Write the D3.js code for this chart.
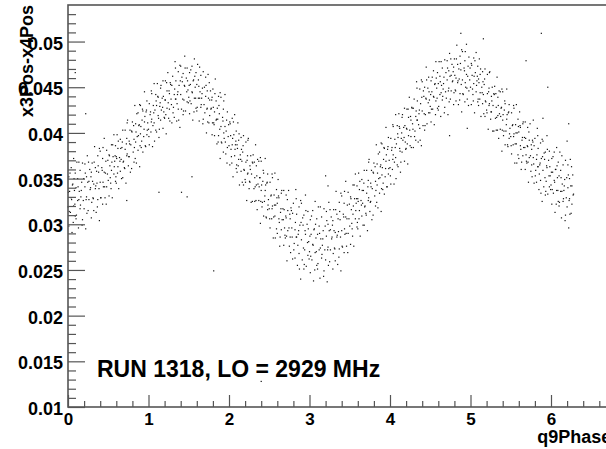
<!DOCTYPE html>
<html>
<head>
<meta charset="utf-8">
<script src="https://cdn.jsdelivr.net/npm/d3@7"></script>
<style>
  body { margin: 0; background: #fff; }
  svg { display: block; }
</style>
</head>
<body>
<svg id="chart" width="606" height="449"></svg>
<script>
// Run annotation and axis titles
const runLabel = "RUN 1318, LO = 2929 MHz";
const xTitle = "q9Phase";
const yTitle = "x3Pos-x4Pos";

// Axis ticks
const xMajor = [0, 1, 2, 3, 4, 5, 6];
const yMajor = [0.01, 0.015, 0.02, 0.025, 0.03, 0.035, 0.04, 0.045, 0.05];
const yLabels = ["0.01", "0.015", "0.02", "0.025", "0.03", "0.035", "0.04", "0.045", "0.05"];

// Scan events: [q9Phase, x3Pos-x4Pos]
const scan = [
[0.00,.0319],[0.01,.0352],[0.01,.0298],[0.02,.0336],[0.03,.0313],[0.04,.0362],[0.04,.0329],[0.05,.0291],[0.06,.0344],[0.07,.0320],[0.07,.0372],[0.08,.0337],[0.09,.0309],[0.09,.0356],
[0.10,.0340],[0.10,.0306],[0.11,.0368],[0.12,.0326],[0.12,.0350],[0.13,.0296],[0.14,.0336],[0.15,.0359],[0.15,.0317],[0.16,.0330],[0.17,.0346],[0.18,.0305],[0.18,.0367],[0.19,.0326],
[0.20,.0317],[0.21,.0341],[0.21,.0366],[0.22,.0295],[0.23,.0352],[0.23,.0330],[0.24,.0375],[0.25,.0315],[0.26,.0347],[0.26,.0327],[0.27,.0360],[0.28,.0340],[0.29,.0307],[0.29,.0357],
[0.30,.0367],[0.31,.0329],[0.32,.0344],[0.32,.0315],[0.33,.0385],[0.34,.0339],[0.34,.0362],[0.35,.0313],[0.36,.0345],[0.37,.0375],[0.37,.0327],[0.38,.0357],[0.39,.0383],[0.39,.0304],
[0.40,.0346],[0.40,.0380],[0.41,.0329],[0.42,.0362],[0.43,.0322],[0.43,.0372],[0.44,.0341],[0.45,.0357],[0.45,.0394],[0.46,.0329],[0.47,.0369],[0.48,.0341],[0.48,.0381],[0.49,.0355],
[0.50,.0348],[0.51,.0376],[0.51,.0331],[0.52,.0364],[0.53,.0345],[0.54,.0387],[0.54,.0359],[0.55,.0329],[0.56,.0374],[0.57,.0355],[0.57,.0398],[0.58,.0369],[0.59,.0347],[0.59,.0386],
[0.60,.0374],[0.60,.0345],[0.61,.0398],[0.62,.0363],[0.62,.0383],[0.63,.0339],[0.64,.0373],[0.65,.0393],[0.65,.0358],[0.66,.0371],[0.67,.0384],[0.68,.0351],[0.68,.0403],[0.69,.0369],
[0.70,.0362],[0.71,.0382],[0.71,.0403],[0.72,.0345],[0.73,.0394],[0.73,.0375],[0.74,.0414],[0.75,.0364],[0.76,.0391],[0.76,.0374],[0.77,.0403],[0.78,.0387],[0.79,.0361],[0.79,.0402],
[0.80,.0412],[0.81,.0379],[0.82,.0393],[0.82,.0368],[0.83,.0430],[0.84,.0390],[0.84,.0410],[0.85,.0367],[0.86,.0396],[0.87,.0422],[0.87,.0381],[0.88,.0408],[0.89,.0431],[0.89,.0363],
[0.90,.0399],[0.90,.0430],[0.91,.0384],[0.92,.0414],[0.93,.0379],[0.93,.0424],[0.94,.0396],[0.95,.0412],[0.95,.0445],[0.96,.0386],[0.97,.0423],[0.98,.0398],[0.98,.0435],[0.99,.0411],
[1.00,.0404],[1.01,.0432],[1.01,.0387],[1.02,.0420],[1.03,.0401],[1.04,.0443],[1.04,.0415],[1.05,.0385],[1.06,.0430],[1.07,.0411],[1.07,.0454],[1.08,.0425],[1.09,.0403],[1.09,.0442],
[1.10,.0430],[1.10,.0401],[1.11,.0454],[1.12,.0419],[1.12,.0439],[1.13,.0395],[1.14,.0429],[1.15,.0449],[1.15,.0414],[1.16,.0425],[1.17,.0438],[1.18,.0405],[1.18,.0457],[1.19,.0423],
[1.20,.0416],[1.21,.0436],[1.21,.0457],[1.22,.0399],[1.23,.0446],[1.23,.0427],[1.24,.0466],[1.25,.0416],[1.26,.0443],[1.26,.0426],[1.27,.0455],[1.28,.0437],[1.29,.0411],[1.29,.0452],
[1.30,.0462],[1.31,.0428],[1.32,.0442],[1.32,.0417],[1.33,.0478],[1.34,.0437],[1.34,.0457],[1.35,.0413],[1.36,.0442],[1.37,.0467],[1.37,.0426],[1.38,.0452],[1.39,.0474],[1.39,.0406],
[1.40,.0442],[1.40,.0473],[1.41,.0426],[1.42,.0456],[1.43,.0420],[1.43,.0465],[1.44,.0436],[1.45,.0451],[1.45,.0484],[1.46,.0424],[1.47,.0460],[1.48,.0434],[1.48,.0471],[1.49,.0447],
[1.50,.0439],[1.51,.0466],[1.51,.0421],[1.52,.0453],[1.53,.0432],[1.54,.0473],[1.54,.0445],[1.55,.0414],[1.56,.0458],[1.57,.0438],[1.57,.0481],[1.58,.0450],[1.59,.0427],[1.59,.0466],
[1.60,.0453],[1.60,.0424],[1.61,.0475],[1.62,.0438],[1.62,.0458],[1.63,.0413],[1.64,.0445],[1.65,.0463],[1.65,.0428],[1.66,.0438],[1.67,.0449],[1.68,.0415],[1.68,.0467],[1.69,.0431],
[1.70,.0422],[1.71,.0440],[1.71,.0461],[1.72,.0400],[1.73,.0446],[1.73,.0427],[1.74,.0464],[1.75,.0411],[1.76,.0436],[1.76,.0419],[1.77,.0446],[1.78,.0427],[1.79,.0398],[1.79,.0439],
[1.80,.0448],[1.81,.0411],[1.82,.0423],[1.82,.0397],[1.83,.0459],[1.84,.0414],[1.84,.0435],[1.85,.0388],[1.86,.0415],[1.87,.0440],[1.87,.0397],[1.88,.0421],[1.89,.0444],[1.89,.0372],
[1.90,.0407],[1.90,.0439],[1.91,.0389],[1.92,.0417],[1.93,.0379],[1.93,.0426],[1.94,.0394],[1.95,.0407],[1.95,.0442],[1.96,.0377],[1.97,.0414],[1.98,.0384],[1.98,.0423],[1.99,.0396],
[2.00,.0386],[2.01,.0412],[2.01,.0365],[2.02,.0397],[2.03,.0374],[2.04,.0416],[2.04,.0387],[2.05,.0352],[2.06,.0398],[2.07,.0375],[2.07,.0420],[2.08,.0387],[2.09,.0361],[2.09,.0402],
[2.10,.0387],[2.10,.0357],[2.11,.0411],[2.12,.0371],[2.12,.0392],[2.13,.0343],[2.14,.0376],[2.15,.0395],[2.15,.0358],[2.16,.0369],[2.17,.0379],[2.18,.0343],[2.18,.0397],[2.19,.0359],
[2.20,.0349],[2.21,.0368],[2.21,.0390],[2.22,.0326],[2.23,.0375],[2.23,.0355],[2.24,.0394],[2.25,.0339],[2.26,.0364],[2.26,.0346],[2.27,.0375],[2.28,.0355],[2.29,.0325],[2.29,.0368],
[2.30,.0376],[2.31,.0339],[2.32,.0351],[2.32,.0325],[2.33,.0387],[2.34,.0343],[2.34,.0364],[2.35,.0316],[2.36,.0344],[2.37,.0369],[2.37,.0326],[2.38,.0351],[2.39,.0373],[2.39,.0301],
[2.40,.0337],[2.40,.0369],[2.41,.0319],[2.42,.0347],[2.43,.0309],[2.43,.0356],[2.44,.0325],[2.45,.0337],[2.45,.0372],[2.46,.0308],[2.47,.0345],[2.48,.0316],[2.48,.0355],[2.49,.0327],
[2.50,.0317],[2.51,.0346],[2.51,.0296],[2.52,.0331],[2.53,.0306],[2.54,.0351],[2.54,.0320],[2.55,.0285],[2.56,.0332],[2.57,.0309],[2.57,.0356],[2.58,.0321],[2.59,.0295],[2.59,.0338],
[2.60,.0323],[2.60,.0290],[2.61,.0349],[2.62,.0306],[2.62,.0329],[2.63,.0276],[2.64,.0313],[2.65,.0334],[2.65,.0294],[2.66,.0305],[2.67,.0317],[2.68,.0277],[2.68,.0337],[2.69,.0296],
[2.70,.0285],[2.71,.0307],[2.71,.0332],[2.72,.0260],[2.73,.0315],[2.73,.0293],[2.74,.0337],[2.75,.0276],[2.76,.0306],[2.76,.0286],[2.77,.0318],[2.78,.0296],[2.79,.0262],[2.79,.0312],
[2.80,.0323],[2.81,.0279],[2.82,.0294],[2.82,.0263],[2.83,.0338],[2.84,.0286],[2.84,.0311],[2.85,.0255],[2.86,.0289],[2.87,.0319],[2.87,.0268],[2.88,.0299],[2.89,.0326],[2.89,.0240],
[2.90,.0283],[2.90,.0323],[2.91,.0261],[2.92,.0299],[2.93,.0251],[2.93,.0310],[2.94,.0272],[2.95,.0289],[2.95,.0332],[2.96,.0254],[2.97,.0300],[2.98,.0266],[2.98,.0314],[2.99,.0281],
[3.00,.0270],[3.01,.0305],[3.01,.0247],[3.02,.0289],[3.03,.0261],[3.04,.0315],[3.04,.0278],[3.05,.0238],[3.06,.0295],[3.07,.0269],[3.07,.0325],[3.08,.0285],[3.09,.0255],[3.09,.0306],
[3.10,.0289],[3.10,.0251],[3.11,.0319],[3.12,.0272],[3.12,.0298],[3.13,.0241],[3.14,.0284],[3.15,.0308],[3.15,.0263],[3.16,.0277],[3.17,.0293],[3.18,.0249],[3.18,.0317],[3.19,.0272],
[3.20,.0261],[3.21,.0287],[3.21,.0314],[3.22,.0237],[3.23,.0300],[3.23,.0275],[3.24,.0324],[3.25,.0259],[3.26,.0294],[3.26,.0272],[3.27,.0308],[3.28,.0286],[3.29,.0251],[3.29,.0304],
[3.30,.0316],[3.31,.0274],[3.32,.0291],[3.32,.0260],[3.33,.0336],[3.34,.0286],[3.34,.0311],[3.35,.0256],[3.36,.0292],[3.37,.0324],[3.37,.0273],[3.38,.0305],[3.39,.0334],[3.39,.0249],
[3.40,.0293],[3.40,.0331],[3.41,.0275],[3.42,.0311],[3.43,.0269],[3.43,.0323],[3.44,.0289],[3.45,.0308],[3.45,.0347],[3.46,.0276],[3.47,.0321],[3.48,.0290],[3.48,.0335],[3.49,.0306],
[3.50,.0298],[3.51,.0330],[3.51,.0278],[3.52,.0316],[3.53,.0295],[3.54,.0343],[3.54,.0311],[3.55,.0276],[3.56,.0328],[3.57,.0306],[3.57,.0355],[3.58,.0323],[3.59,.0297],[3.59,.0342],
[3.60,.0328],[3.60,.0295],[3.61,.0356],[3.62,.0315],[3.62,.0338],[3.63,.0287],[3.64,.0326],[3.65,.0349],[3.65,.0309],[3.66,.0323],[3.67,.0337],[3.68,.0299],[3.68,.0359],[3.69,.0320],
[3.70,.0312],[3.71,.0334],[3.71,.0359],[3.72,.0293],[3.73,.0348],[3.73,.0326],[3.74,.0371],[3.75,.0314],[3.76,.0345],[3.76,.0325],[3.77,.0359],[3.78,.0339],[3.79,.0310],[3.79,.0357],
[3.80,.0367],[3.81,.0331],[3.82,.0347],[3.82,.0320],[3.83,.0387],[3.84,.0343],[3.84,.0366],[3.85,.0318],[3.86,.0350],[3.87,.0379],[3.87,.0334],[3.88,.0363],[3.89,.0389],[3.89,.0314],
[3.90,.0354],[3.90,.0388],[3.91,.0338],[3.92,.0371],[3.93,.0333],[3.93,.0383],[3.94,.0352],[3.95,.0369],[3.95,.0406],[3.96,.0341],[3.97,.0382],[3.98,.0355],[3.98,.0395],[3.99,.0370],
[4.00,.0362],[4.01,.0394],[4.01,.0344],[4.02,.0381],[4.03,.0360],[4.04,.0407],[4.04,.0376],[4.05,.0344],[4.06,.0393],[4.07,.0373],[4.07,.0420],[4.08,.0388],[4.09,.0365],[4.09,.0408],
[4.10,.0395],[4.10,.0363],[4.11,.0421],[4.12,.0383],[4.12,.0405],[4.13,.0357],[4.14,.0394],[4.15,.0417],[4.15,.0379],[4.16,.0392],[4.17,.0406],[4.18,.0369],[4.18,.0427],[4.19,.0390],
[4.20,.0383],[4.21,.0404],[4.21,.0426],[4.22,.0366],[4.23,.0417],[4.23,.0397],[4.24,.0439],[4.25,.0386],[4.26,.0414],[4.26,.0396],[4.27,.0428],[4.28,.0410],[4.29,.0384],[4.29,.0427],
[4.30,.0437],[4.31,.0402],[4.32,.0418],[4.32,.0392],[4.33,.0456],[4.34,.0414],[4.34,.0435],[4.35,.0390],[4.36,.0421],[4.37,.0448],[4.37,.0405],[4.38,.0432],[4.39,.0458],[4.39,.0386],
[4.40,.0424],[4.40,.0456],[4.41,.0408],[4.42,.0440],[4.43,.0403],[4.43,.0450],[4.44,.0420],[4.45,.0437],[4.45,.0472],[4.46,.0410],[4.47,.0449],[4.48,.0422],[4.48,.0461],[4.49,.0436],
[4.50,.0429],[4.51,.0457],[4.51,.0412],[4.52,.0445],[4.53,.0426],[4.54,.0468],[4.54,.0440],[4.55,.0409],[4.56,.0454],[4.57,.0435],[4.57,.0478],[4.58,.0449],[4.59,.0427],[4.59,.0466],
[4.60,.0454],[4.60,.0425],[4.61,.0478],[4.62,.0442],[4.62,.0462],[4.63,.0418],[4.64,.0452],[4.65,.0471],[4.65,.0436],[4.66,.0448],[4.67,.0461],[4.68,.0428],[4.68,.0480],[4.69,.0445],
[4.70,.0438],[4.71,.0458],[4.71,.0479],[4.72,.0420],[4.73,.0468],[4.73,.0449],[4.74,.0487],[4.75,.0437],[4.76,.0463],[4.76,.0446],[4.77,.0475],[4.78,.0457],[4.79,.0431],[4.79,.0472],
[4.80,.0481],[4.81,.0447],[4.82,.0460],[4.82,.0435],[4.83,.0496],[4.84,.0455],[4.84,.0475],[4.85,.0431],[4.86,.0459],[4.87,.0484],[4.87,.0443],[4.88,.0469],[4.89,.0491],[4.89,.0423],
[4.90,.0458],[4.90,.0489],[4.91,.0442],[4.92,.0471],[4.93,.0434],[4.93,.0479],[4.94,.0450],[4.95,.0464],[4.95,.0497],[4.96,.0437],[4.97,.0473],[4.98,.0446],[4.98,.0483],[4.99,.0458],
[5.00,.0450],[5.01,.0476],[5.01,.0431],[5.02,.0463],[5.03,.0442],[5.04,.0482],[5.04,.0454],[5.05,.0422],[5.06,.0466],[5.07,.0445],[5.07,.0488],[5.08,.0457],[5.09,.0434],[5.09,.0473],
[5.10,.0459],[5.10,.0430],[5.11,.0481],[5.12,.0444],[5.12,.0464],[5.13,.0418],[5.14,.0450],[5.15,.0467],[5.15,.0432],[5.16,.0442],[5.17,.0453],[5.18,.0418],[5.18,.0470],[5.19,.0434],
[5.20,.0425],[5.21,.0443],[5.21,.0464],[5.22,.0404],[5.23,.0449],[5.23,.0430],[5.24,.0467],[5.25,.0415],[5.26,.0440],[5.26,.0423],[5.27,.0450],[5.28,.0430],[5.29,.0402],[5.29,.0443],
[5.30,.0451],[5.31,.0416],[5.32,.0428],[5.32,.0403],[5.33,.0461],[5.34,.0419],[5.34,.0439],[5.35,.0394],[5.36,.0421],[5.37,.0445],[5.37,.0404],[5.38,.0427],[5.39,.0448],[5.39,.0380],
[5.40,.0414],[5.40,.0445],[5.41,.0397],[5.42,.0425],[5.43,.0387],[5.43,.0432],[5.44,.0402],[5.45,.0415],[5.45,.0448],[5.46,.0387],[5.47,.0422],[5.48,.0394],[5.48,.0431],[5.49,.0405],
[5.50,.0396],[5.51,.0422],[5.51,.0377],[5.52,.0408],[5.53,.0387],[5.54,.0427],[5.54,.0399],[5.55,.0367],[5.56,.0409],[5.57,.0388],[5.57,.0431],[5.58,.0400],[5.59,.0376],[5.59,.0415],
[5.60,.0401],[5.60,.0372],[5.61,.0423],[5.62,.0386],[5.62,.0406],[5.63,.0360],[5.64,.0392],[5.65,.0410],[5.65,.0375],[5.66,.0384],[5.67,.0395],[5.68,.0360],[5.68,.0412],[5.69,.0376],
[5.70,.0367],[5.71,.0385],[5.71,.0406],[5.72,.0346],[5.73,.0392],[5.73,.0373],[5.74,.0410],[5.75,.0358],[5.76,.0382],[5.76,.0365],[5.77,.0392],[5.78,.0373],[5.79,.0345],[5.79,.0386],
[5.80,.0394],[5.81,.0359],[5.82,.0371],[5.82,.0346],[5.83,.0405],[5.84,.0363],[5.84,.0383],[5.85,.0338],[5.86,.0365],[5.87,.0389],[5.87,.0348],[5.88,.0372],[5.89,.0393],[5.89,.0325],
[5.90,.0359],[5.90,.0391],[5.91,.0341],[5.92,.0371],[5.93,.0332],[5.93,.0379],[5.94,.0347],[5.95,.0362],[5.95,.0397],[5.96,.0333],[5.97,.0370],[5.98,.0341],[5.98,.0380],[5.99,.0353],
[6.00,.0343],[6.01,.0372],[6.01,.0322],[6.02,.0357],[6.03,.0334],[6.04,.0379],[6.04,.0348],[6.05,.0313],[6.06,.0360],[6.07,.0337],[6.07,.0384],[6.08,.0351],[6.09,.0325],[6.09,.0368],
[6.10,.0353],[6.10,.0320],[6.11,.0379],[6.12,.0336],[6.12,.0359],[6.13,.0307],[6.14,.0344],[6.15,.0365],[6.15,.0325],[6.16,.0337],[6.17,.0349],[6.18,.0310],[6.18,.0370],[6.19,.0329],
[6.20,.0319],[6.21,.0340],[6.21,.0365],[6.22,.0296],[6.23,.0350],[6.23,.0328],[6.24,.0371],[6.25,.0312],[6.26,.0342],[6.26,.0322],[6.27,.0354],[6.28,.0333]
];

// Second pass of the same scan, recorded between the steps of the first
const scanFill = [
[0.005,.0335],[0.015,.0314],[0.025,.0356],[0.045,.0327],[0.055,.0343],[0.065,.0302],[0.075,.0350],[0.085,.0322],
[0.105,.0310],[0.125,.0341],[0.135,.0327],[0.135,.0368],[0.155,.0321],[0.165,.0337],[0.175,.0299],[0.195,.0350],
[0.215,.0356],[0.225,.0327],[0.235,.0312],[0.245,.0346],[0.255,.0368],[0.275,.0338],[0.285,.0352],[0.295,.0324],
[0.305,.0347],[0.315,.0328],[0.325,.0368],[0.345,.0342],[0.355,.0358],[0.365,.0319],[0.375,.0364],[0.385,.0339],
[0.405,.0329],[0.425,.0359],[0.435,.0346],[0.435,.0384],[0.455,.0341],[0.465,.0356],[0.475,.0322],[0.495,.0370],
[0.515,.0375],[0.525,.0351],[0.535,.0339],[0.545,.0368],[0.555,.0387],[0.575,.0363],[0.585,.0375],[0.595,.0352],
[0.605,.0372],[0.615,.0356],[0.625,.0391],[0.645,.0369],[0.655,.0383],[0.665,.0350],[0.675,.0390],[0.685,.0368],
[0.705,.0361],[0.725,.0388],[0.735,.0377],[0.735,.0411],[0.755,.0374],[0.765,.0388],[0.775,.0357],[0.795,.0401],
[0.815,.0408],[0.825,.0384],[0.835,.0372],[0.845,.0401],[0.855,.0421],[0.875,.0397],[0.885,.0409],[0.895,.0386],
[0.905,.0407],[0.915,.0391],[0.925,.0426],[0.945,.0404],[0.955,.0418],[0.965,.0385],[0.975,.0425],[0.985,.0403],
[1.005,.0396],[1.025,.0423],[1.035,.0412],[1.035,.0446],[1.055,.0408],[1.065,.0422],[1.075,.0391],[1.095,.0435],
[1.115,.0440],[1.125,.0416],[1.135,.0404],[1.145,.0433],[1.155,.0452],[1.175,.0428],[1.185,.0440],[1.195,.0417],
[1.205,.0436],[1.215,.0420],[1.225,.0455],[1.245,.0433],[1.255,.0446],[1.265,.0413],[1.275,.0453],[1.285,.0431],
[1.305,.0422],[1.325,.0448],[1.335,.0437],[1.335,.0471],[1.355,.0432],[1.365,.0445],[1.375,.0414],[1.395,.0457],
[1.415,.0461],[1.425,.0437],[1.435,.0424],[1.445,.0452],[1.455,.0471],[1.475,.0445],[1.485,.0457],[1.495,.0433],
[1.505,.0452],[1.515,.0435],[1.525,.0469],[1.545,.0444],[1.555,.0457],[1.565,.0423],[1.575,.0462],[1.585,.0438],
[1.605,.0428],[1.625,.0451],[1.635,.0438],[1.635,.0472],[1.655,.0431],[1.665,.0443],[1.675,.0410],[1.695,.0450],
[1.715,.0452],[1.725,.0426],[1.735,.0412],[1.745,.0438],[1.755,.0455],[1.775,.0426],[1.785,.0436],[1.795,.0411],
[1.805,.0428],[1.815,.0409],[1.825,.0443],[1.845,.0415],[1.855,.0427],[1.865,.0390],[1.875,.0430],[1.885,.0404],
[1.905,.0390],[1.925,.0413],[1.935,.0400],[1.935,.0435],[1.955,.0390],[1.965,.0402],[1.975,.0367],[1.995,.0409],
[2.015,.0410],[2.025,.0382],[2.035,.0367],[2.045,.0394],[2.055,.0412],[2.075,.0382],[2.085,.0391],[2.095,.0365],
[2.105,.0383],[2.115,.0364],[2.125,.0399],[2.145,.0371],[2.155,.0382],[2.165,.0346],[2.175,.0386],[2.185,.0360],
[2.205,.0346],[2.225,.0370],[2.235,.0356],[2.235,.0392],[2.255,.0347],[2.265,.0360],[2.275,.0324],[2.295,.0367],
[2.315,.0368],[2.325,.0341],[2.335,.0326],[2.345,.0353],[2.355,.0371],[2.375,.0341],[2.385,.0351],[2.395,.0325],
[2.405,.0343],[2.415,.0324],[2.425,.0359],[2.445,.0331],[2.455,.0343],[2.465,.0307],[2.475,.0346],[2.485,.0321],
[2.505,.0306],[2.525,.0332],[2.535,.0317],[2.535,.0355],[2.555,.0308],[2.565,.0321],[2.575,.0285],[2.595,.0329],
[2.615,.0331],[2.625,.0302],[2.635,.0286],[2.645,.0317],[2.655,.0337],[2.675,.0305],[2.685,.0316],[2.695,.0288],
[2.705,.0309],[2.715,.0287],[2.725,.0327],[2.745,.0296],[2.755,.0311],[2.765,.0269],[2.775,.0315],[2.785,.0286],
[2.805,.0272],[2.825,.0302],[2.835,.0286],[2.835,.0328],[2.855,.0277],[2.865,.0293],[2.875,.0251],[2.895,.0302],
[2.915,.0307],[2.925,.0274],[2.935,.0256],[2.945,.0293],[2.955,.0315],[2.975,.0280],[2.985,.0295],[2.995,.0262],
[3.005,.0287],[3.015,.0265],[3.025,.0309],[3.045,.0277],[3.055,.0294],[3.065,.0250],[3.075,.0300],[3.085,.0270],
[3.105,.0257],[3.125,.0290],[3.135,.0274],[3.135,.0319],[3.155,.0267],[3.165,.0284],[3.175,.0243],[3.195,.0298],
[3.215,.0304],[3.225,.0272],[3.235,.0255],[3.245,.0293],[3.255,.0316],[3.275,.0284],[3.285,.0299],[3.295,.0268],
[3.305,.0293],[3.315,.0273],[3.325,.0316],[3.345,.0288],[3.355,.0306],[3.365,.0264],[3.375,.0314],[3.385,.0286],
[3.405,.0276],[3.425,.0308],[3.435,.0295],[3.435,.0336],[3.455,.0290],[3.465,.0306],[3.475,.0269],[3.495,.0322],
[3.515,.0328],[3.525,.0301],[3.535,.0287],[3.545,.0320],[3.555,.0343],[3.575,.0315],[3.585,.0328],[3.595,.0302],
[3.605,.0325],[3.615,.0306],[3.625,.0347],[3.645,.0321],[3.655,.0337],[3.665,.0299],[3.675,.0345],[3.685,.0319],
[3.705,.0310],[3.725,.0341],[3.735,.0329],[3.735,.0368],[3.755,.0324],[3.765,.0341],[3.775,.0305],[3.795,.0356],
[3.815,.0363],[3.825,.0337],[3.835,.0324],[3.845,.0356],[3.855,.0377],[3.875,.0351],[3.885,.0365],[3.895,.0339],
[3.905,.0362],[3.915,.0345],[3.925,.0384],[3.945,.0361],[3.955,.0376],[3.965,.0341],[3.975,.0385],[3.985,.0361],
[4.005,.0353],[4.025,.0384],[4.035,.0371],[4.035,.0409],[4.055,.0368],[4.065,.0384],[4.075,.0350],[4.095,.0399],
[4.115,.0407],[4.125,.0380],[4.135,.0368],[4.145,.0400],[4.155,.0420],[4.175,.0395],[4.185,.0408],[4.195,.0382],
[4.205,.0405],[4.215,.0388],[4.225,.0426],[4.245,.0403],[4.255,.0418],[4.265,.0384],[4.275,.0427],[4.285,.0404],
[4.305,.0396],[4.325,.0424],[4.335,.0414],[4.335,.0449],[4.355,.0409],[4.365,.0425],[4.375,.0392],[4.395,.0439],
[4.415,.0446],[4.425,.0421],[4.435,.0408],[4.445,.0438],[4.455,.0458],[4.475,.0433],[4.485,.0445],[4.495,.0422],
[4.505,.0442],[4.515,.0426],[4.525,.0461],[4.545,.0439],[4.555,.0453],[4.565,.0420],[4.575,.0460],[4.585,.0438],
[4.605,.0429],[4.625,.0456],[4.635,.0444],[4.635,.0478],[4.655,.0440],[4.665,.0454],[4.675,.0422],[4.695,.0466],
[4.715,.0471],[4.725,.0446],[4.735,.0434],[4.745,.0462],[4.755,.0481],[4.775,.0456],[4.785,.0467],[4.795,.0444],
[4.805,.0463],[4.815,.0446],[4.825,.0481],[4.845,.0457],[4.855,.0470],[4.865,.0436],[4.875,.0476],[4.885,.0453],
[4.905,.0443],[4.925,.0468],[4.935,.0455],[4.935,.0489],[4.955,.0449],[4.965,.0462],[4.975,.0430],[4.995,.0471],
[5.015,.0474],[5.025,.0448],[5.035,.0435],[5.045,.0462],[5.055,.0479],[5.075,.0452],[5.085,.0462],[5.095,.0437],
[5.105,.0455],[5.115,.0437],[5.125,.0470],[5.145,.0444],[5.155,.0456],[5.165,.0421],[5.175,.0459],[5.185,.0435],
[5.205,.0422],[5.225,.0445],[5.235,.0432],[5.235,.0466],[5.255,.0423],[5.265,.0435],[5.275,.0402],[5.295,.0442],
[5.315,.0443],[5.325,.0417],[5.335,.0403],[5.345,.0430],[5.355,.0446],[5.375,.0418],[5.385,.0428],[5.395,.0403],
[5.405,.0420],[5.415,.0402],[5.425,.0435],[5.445,.0409],[5.455,.0420],[5.465,.0385],[5.475,.0423],[5.485,.0399],
[5.505,.0386],[5.525,.0409],[5.535,.0396],[5.535,.0430],[5.555,.0388],[5.565,.0400],[5.575,.0367],[5.595,.0407],
[5.615,.0408],[5.625,.0382],[5.635,.0368],[5.645,.0395],[5.655,.0412],[5.675,.0384],[5.685,.0394],[5.695,.0369],
[5.705,.0386],[5.715,.0368],[5.725,.0401],[5.745,.0375],[5.755,.0387],[5.765,.0352],[5.775,.0390],[5.785,.0366],
[5.805,.0353],[5.825,.0376],[5.835,.0363],[5.835,.0397],[5.855,.0355],[5.865,.0367],[5.875,.0334],[5.895,.0374],
[5.915,.0378],[5.925,.0351],[5.935,.0336],[5.945,.0364],[5.955,.0382],[5.975,.0353],[5.985,.0363],[5.995,.0338],
[6.005,.0357],[6.015,.0338],[6.025,.0374],[6.045,.0346],[6.055,.0360],[6.065,.0322],[6.075,.0364],[6.085,.0337],
[6.105,.0324],[6.125,.0351],[6.135,.0336],[6.135,.0375],[6.155,.0328],[6.165,.0342],[6.175,.0304],[6.195,.0351],
[6.215,.0354],[6.225,.0326],[6.235,.0311],[6.245,.0342],[6.255,.0363],[6.275,.0332]
];

// Isolated events away from the main band
const strays = [
[0.09,.0466],[0.22,.0421],[0.73,.0326],[1.13,.0335],[1.41,.0335],[1.48,.0330],[1.54,.0352],
[1.81,.0249],[2.40,.0128],[3.20,.0353],[3.23,.0342],[4.74,.0397],[4.88,.0509],[4.96,.0405],
[5.16,.0503],[5.69,.0479],[5.78,.0414],[5.88,.0509],[5.90,.0416],[5.96,.0450],[6.20,.0391],[6.22,.0410]
];

const svg = d3.select("#chart");
const W = 606, H = 449;
svg.append("rect").attr("width", W).attr("height", H).attr("fill", "#fff");

const frame = { left: 68, top: 5, bottom: 407 };
const x = d3.scaleLinear().domain([0, 6.75]).range([frame.left, frame.left + 6.75 * 80.5]);
const y = d3.scaleLinear().domain([0.01, 0.054]).range([frame.bottom, frame.top]);

const FONT = "'Liberation Sans', Arial, Helvetica, sans-serif";
const axisColor = "#555";

// Markers: single-pixel dots
svg.append("g")
  .selectAll("rect")
  .data(scan.concat(scanFill, strays))
  .join("rect")
  .attr("x", d => x(d[0]) - 0.6)
  .attr("y", d => y(d[1]) - 0.6)
  .attr("width", 1.2)
  .attr("height", 1.2)
  .attr("fill", "#111");

// Frame border
svg.append("rect")
  .attr("x", x(0)).attr("y", y(0.054))
  .attr("width", x(6.75) - x(0)).attr("height", y(0.01) - y(0.054))
  .attr("fill", "none").attr("stroke", axisColor).attr("stroke-width", 1.6);

function styleAxis(g, size) {
  g.select(".domain").remove();
  g.selectAll(".tick line").attr("stroke", axisColor).attr("stroke-width", 1.2);
  g.selectAll("text")
    .attr("font-family", FONT)
    .attr("font-weight", "bold")
    .attr("font-size", size)
    .attr("fill", "#000");
}

// X axis (ticks point into the frame)
const xMinor = d3.range(0.2, 6.75, 0.2).filter(v => Math.abs(v - Math.round(v)) > 1e-6);
svg.append("g").attr("transform", `translate(0,${frame.bottom})`)
  .call(d3.axisBottom(x).tickValues(xMinor).tickSize(-6).tickFormat(""))
  .call(g => styleAxis(g, 17));
svg.append("g").attr("transform", `translate(0,${frame.bottom})`)
  .call(d3.axisBottom(x).tickValues(xMajor).tickSize(-12).tickPadding(6).tickFormat(d3.format("d")))
  .call(g => styleAxis(g, 17));

// Y axis
const yMinor = d3.range(11, 54).filter(v => v % 5 !== 0).map(v => v / 1000);
svg.append("g").attr("transform", `translate(${frame.left},0)`)
  .call(d3.axisLeft(y).tickValues(yMinor).tickSize(-8).tickFormat(""))
  .call(g => styleAxis(g, 18));
svg.append("g").attr("transform", `translate(${frame.left},0)`)
  .call(d3.axisLeft(y).tickValues(yMajor).tickSize(-17).tickPadding(5).tickFormat((d, i) => yLabels[i]))
  .call(g => styleAxis(g, 18))
  .call(g => g.selectAll("text").attr("dy", "0.42em"));

// Axis titles
svg.append("text")
  .attr("x", x(6.75)).attr("y", 443)
  .attr("text-anchor", "end")
  .attr("font-family", FONT).attr("font-weight", "bold").attr("font-size", 18)
  .text(xTitle);

svg.append("text")
  .attr("transform", `translate(33,${frame.top}) rotate(-90)`)
  .attr("text-anchor", "end")
  .attr("font-family", FONT).attr("font-weight", "bold").attr("font-size", 18)
  .text(yTitle);

// Run annotation
svg.append("text")
  .attr("x", 97).attr("y", 377)
  .attr("font-family", FONT).attr("font-weight", "bold").attr("font-size", 23)
  .text(runLabel);
</script>
</body>
</html>
